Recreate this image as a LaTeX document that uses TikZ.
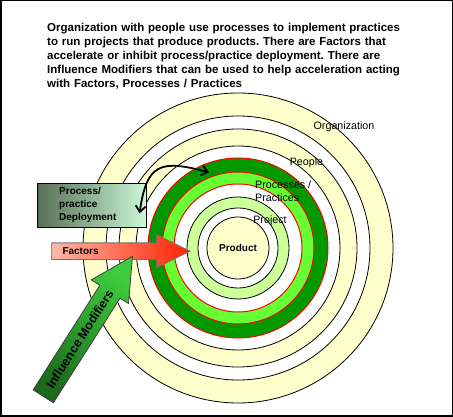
\documentclass[tikz,border=0pt]{standalone}
\usepackage{fontspec}
\setmainfont{Liberation Sans}
\usetikzlibrary{positioning, arrows.meta}
\frenchspacing

\definecolor{orgyellow}{HTML}{FFFFCC}
\definecolor{projgreen}{HTML}{CCFF99}
\definecolor{pracgreen}{HTML}{66FF33}
\definecolor{procgreen}{HTML}{009900}
\definecolor{deploydark}{HTML}{566F55}
\definecolor{deploylight}{HTML}{CCF8D8}
\definecolor{factlight}{HTML}{FFB8A8}
\definecolor{factred}{HTML}{FF2200}
\definecolor{inflight}{HTML}{3DCC3D}
\definecolor{infldark}{HTML}{1C6A1C}

\begin{document}
\begin{tikzpicture}[x=1pt, y=1pt, >={Straight Barb[length=6pt, width=10pt]},
        ring/.style={circle, draw, line width=0.8pt, inner sep=0pt, minimum size=#1},
        red ring/.style={ring=#1, draw=red, line width=1pt},
        ring text/.style={font=\fontsize{10.7}{12.7}\selectfont, inner sep=0pt, align=left},
        bold text/.style={font=\bfseries\fontsize{10}{13}\selectfont, inner sep=0pt},
        deploy box/.style={bold text, draw, line width=0.8pt, left color=deploydark, right color=deploylight, text width=65pt, align=left, inner xsep=22pt, minimum height=44pt},
        factors arrow/.style={draw=black!55, line width=0.8pt, left color=factlight, right color=factred},
        infl arrow/.style={draw=black!75, line width=0.8pt, top color=inflight, bottom color=infldark, shading angle=-32.5}]
    \useasboundingbox (0,0) rectangle (453,417);
    \draw[line width=1.5pt] (0.75,0.75) rectangle (452.25,416.25);

    \node (title) [anchor=north west, inner sep=0pt, text width=390pt, align=left, font=\bfseries\fontsize{11.5}{14}\selectfont] at (47,394)
        {Organization with people use processes to implement practices\\
         to run projects that produce products. There are Factors that\\
         accelerate or inhibit process/practice deployment. There are\\
         Influence Modifiers that can be used to help acceleration acting\\
         with Factors, Processes / Practices};

    % rings, outside in
    \node (org)         [ring=310pt, fill=orgyellow] at (238,169) {};
    \node (org gap)     [ring=264pt, fill=white] at (org.center) {};
    \node (people)      [ring=238pt, fill=orgyellow] at (org.center) {};
    \node (people gap)  [ring=204pt, fill=white] at (org.center) {};
    \node (proc)        [red ring=180pt, fill=procgreen] at (org.center) {};
    \node (prac)        [red ring=152pt, fill=pracgreen] at (org.center) {};
    \node (prac gap)    [red ring=128pt, fill=white] at (org.center) {};
    \node (project)     [ring=102pt, fill=projgreen] at (org.center) {};
    \node (project gap) [ring=80pt, fill=white] at (org.center) {};
    \node (product)     [ring=62pt, fill=orgyellow, bold text] at (org.center) {Product};

    \node (org label)     [ring text] at (344,290) {Organization};
    \node (people label)  [ring text] at (306.5,254.3) {People};
    \node (proc label)    [ring text, anchor=west] at (255,225.7) {Processes /\\Practices};
    \node (project label) [ring text] at (270,196.3) {Project};

    % deployment box and its double arrow
    \node (deploy) [deploy box] at (91.7,211.7) {Process/\\practice\\Deployment};
    \coordinate (deploy tip) at ([shift={(-7,-8)}]deploy.east);
    \coordinate (proc tip) at ([shift={(111:81)}]product.center);
    \draw[<->, line width=1.8pt] (deploy tip) to[out=82, in=165, looseness=1.6] (proc tip);

    % factors arrow
    \draw[factors arrow] (51.7,157.5) -- (156.7,157.5) -- (156.7,149.3) -- (190,165.8)
        -- (156.7,182.3) -- (156.7,174.1) -- (51.7,174.1) -- cycle;
    \node (factors) [bold text, anchor=west] at (62.3,165.8) {Factors};

    % influence modifiers arrow
    \begin{scope}[shift={(43.3,20.7)}, rotate=57.5]
        \coordinate (i1) at (0,12);
        \coordinate (i2) at (124,12);
        \coordinate (i3) at (124,22);
        \coordinate (infl tip) at (166,0);
        \coordinate (i5) at (124,-22);
        \coordinate (i6) at (124,-12);
        \coordinate (i7) at (0,-12);
        \coordinate (infl mid) at (68,0);
    \end{scope}
    \draw[infl arrow] (i1) -- (i2) -- (i3) -- (infl tip) -- (i5) -- (i6) -- (i7) -- cycle;
    \node (infl) [bold text, font=\bfseries\fontsize{12.5}{15}\selectfont, rotate=57.5] at (infl mid) {Influence Modifiers};
\end{tikzpicture}
\end{document}
